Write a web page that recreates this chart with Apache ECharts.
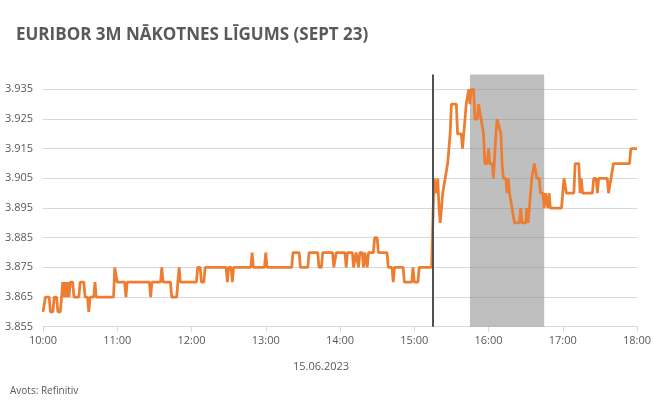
<!DOCTYPE html>
<html>
<head>
<meta charset="utf-8">
<script src="https://cdn.jsdelivr.net/npm/echarts@6/dist/echarts.min.js"></script>
<style>
html,body{margin:0;padding:0;background:#fff;}
#chart{width:660px;height:403px;}
</style>
</head>
<body>
<div id="chart"></div>
<script>
// minutes after 10:00 on 15.06.2023
var minutes = [0,1,2,5,6,8,9,11,12,14,15,16,17,18,19,20,21,22,24,25,29,30,33,34,36,37,38,41,42,43,57,58,59,60,66,67,68,86,87,88,95,96,97,103,104,108,109,110,111,124,125,127,128,130,131,148,149,150,152,153,154,168,169,170,179,180,181,201,202,207,208,214,215,222,223,225,226,234,235,236,237,244,245,246,250,251,253,254,255,256,258,259,260,261,262,263,267,268,270,271,278,279,282,283,284,291,292,298,299,300,303,304,314,316,317,318,319,320,321,322,323,324,325,326,327,329,330,334,335,338,339,340,341,342,343,344,345,346,348,349,351,352,353,354,355,356,357,359,360,361,363,364,366,367,368,370,371,372,374,375,376,377,378,379,381,385,386,387,390,391,392,393,394,395,397,398,399,401,402,404,405,406,407,408,409,410,419,420,421,422,423,429,430,433,434,435,436,444,445,447,448,449,456,457,458,459,460,461,474,475,480];
var prices = [3.860,3.860,3.865,3.865,3.860,3.860,3.865,3.865,3.860,3.860,3.865,3.870,3.865,3.870,3.865,3.870,3.865,3.870,3.870,3.865,3.865,3.870,3.870,3.865,3.865,3.860,3.865,3.865,3.870,3.865,3.865,3.875,3.875,3.870,3.870,3.865,3.870,3.870,3.865,3.870,3.870,3.875,3.870,3.870,3.865,3.865,3.870,3.875,3.870,3.870,3.875,3.875,3.870,3.870,3.875,3.875,3.870,3.875,3.875,3.870,3.875,3.875,3.880,3.875,3.875,3.880,3.875,3.875,3.880,3.880,3.875,3.875,3.880,3.880,3.875,3.875,3.880,3.880,3.875,3.875,3.880,3.880,3.875,3.880,3.880,3.875,3.880,3.880,3.875,3.880,3.880,3.875,3.880,3.880,3.875,3.880,3.880,3.885,3.885,3.880,3.880,3.875,3.875,3.870,3.875,3.875,3.870,3.870,3.875,3.870,3.870,3.875,3.875,3.905,3.905,3.900,3.905,3.895,3.890,3.895,3.900,3.900,3.905,3.905,3.910,3.920,3.930,3.930,3.920,3.920,3.915,3.920,3.925,3.930,3.930,3.935,3.930,3.935,3.935,3.925,3.925,3.930,3.930,3.925,3.925,3.920,3.910,3.910,3.915,3.910,3.910,3.905,3.920,3.925,3.925,3.920,3.910,3.905,3.905,3.900,3.905,3.900,3.900,3.895,3.890,3.890,3.895,3.890,3.890,3.895,3.890,3.890,3.900,3.905,3.910,3.910,3.905,3.905,3.900,3.900,3.895,3.900,3.900,3.895,3.900,3.895,3.895,3.895,3.905,3.905,3.900,3.900,3.910,3.910,3.900,3.905,3.900,3.900,3.905,3.905,3.900,3.905,3.905,3.900,3.900,3.905,3.905,3.910,3.910,3.915,3.915];
var hourLabels = ['10:00','11:00','12:00','13:00','14:00','15:00','16:00','17:00','18:00'];
var yTicks = [3.855,3.865,3.875,3.885,3.895,3.905,3.915,3.925,3.935];
var eventMinute = 315;          // 15:15
var bandMinutes = [345, 405];   // 15:45 - 16:45
var titleText = 'EURIBOR 3M NĀKOTNES LĪGUMS (SEPT 23)';
var dateText = '15.06.2023';
var sourceText = 'Avots: Refinitiv';

var seriesData = minutes.map(function (m, i) { return [m, prices[i]]; });
var FONT = 'Open Sans';

var chart = echarts.init(document.getElementById('chart'));
chart.setOption({
  animation: false,
  backgroundColor: '#ffffff',
  textStyle: { fontFamily: FONT },
  title: {
    text: titleText,
    left: 11, top: 22,
    textStyle: { fontFamily: FONT, fontSize: 17, fontWeight: 'bold', color: '#595959' }
  },
  graphic: [
    { type: 'text', left: 293, top: 361, style: { text: dateText, fontFamily: FONT, fontSize: 11, fill: '#595959' } },
    { type: 'text', left: 10, top: 386, style: { text: sourceText, fontFamily: FONT, fontSize: 10, fill: '#595959' } }
  ],
  grid: { left: 43, right: 23, top: 74.5, bottom: 76.3, containLabel: false },
  xAxis: {
    type: 'value', min: 0, max: 480, interval: 60,
    axisLine: { show: true, lineStyle: { color: '#d9d9d9', width: 1 } },
    axisTick: { show: true, length: 5, lineStyle: { color: '#d9d9d9' } },
    splitLine: { show: false },
    axisLabel: {
      margin: 9, fontSize: 11, color: '#595959', fontFamily: FONT,
      formatter: function (v) { return hourLabels[Math.round(v / 60)]; }
    }
  },
  yAxis: {
    type: 'value', min: 3.855, max: 3.94,
    axisLine: { show: false },
    axisTick: { show: false, customValues: yTicks },
    splitLine: { show: true, lineStyle: { color: '#d9d9d9', width: 1 } },
    axisLabel: {
      customValues: yTicks,
      margin: 10, fontSize: 11, color: '#595959', fontFamily: FONT,
      formatter: function (v) { return v.toFixed(3); }
    }
  },
  series: [{
    type: 'line',
    data: seriesData,
    showSymbol: false,
    symbol: 'none',
    lineStyle: { color: '#ED7D31', width: 2.75 },
    itemStyle: { color: '#ED7D31' },
    silent: true,
    markArea: {
      silent: true,
      itemStyle: { color: 'rgba(128,128,128,0.5)' },
      data: [[{ xAxis: bandMinutes[0] }, { xAxis: bandMinutes[1] }]]
    },
    markLine: {
      silent: true,
      symbol: ['none', 'none'],
      label: { show: false },
      lineStyle: { color: '#505050', width: 2, type: 'solid' },
      data: [{ xAxis: eventMinute }]
    }
  }]
});
</script>
</body>
</html>
